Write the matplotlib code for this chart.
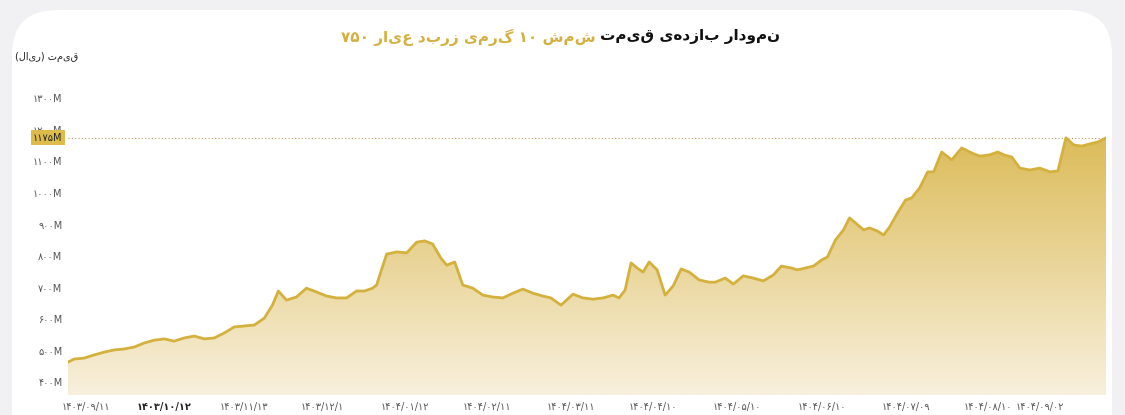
import re
import numpy as np
import matplotlib
matplotlib.use("Agg")
import matplotlib.pyplot as plt
from matplotlib.patches import FancyBboxPatch
from matplotlib.colors import LinearSegmentedColormap

plt.rcParams['font.family'] = ['DejaVu Sans']

def vis(s):
    # matplotlib has no bidi: give visual order, keeping digit runs LTR and mirroring brackets
    parts = re.findall(r'[0-9۰-۹]+|[^0-9۰-۹]', s)
    out = ''.join(parts[::-1])
    return out.translate(str.maketrans('()', ')('))

days = [0,3,8,13,18,23,28,33,38,43,48,53,58,63,68,73,78,83,88,93,98,102,105,109,114,119,124,129,134,139,144,148,152,154,159,164,169,174,178,182,186,189,193,197,202,207,212,217,222,227,232,237,241,246,252,257,262,267,272,275,278,281,284,287,290,294,298,302,306,310,315,320,323,328,332,337,342,347,352,356,361,364,368,372,376,379,383,387,390,393,397,400,404,407,410,414,418,421,425,429,432,436,441,446,451,455,460,464,467,471,475,480,485,490]
price = [463,473,476,486,495,502,505,511,524,533,537,530,540,546,537,540,556,575,578,581,603,644,689,660,670,698,686,673,667,667,689,689,698,708,806,813,810,844,848,838,794,771,781,708,698,676,670,667,682,695,682,673,667,644,679,667,663,667,676,667,692,778,762,749,781,756,676,705,759,749,724,717,717,730,711,737,730,721,740,768,762,756,762,768,787,797,851,883,921,905,883,889,879,867,892,937,978,984,1016,1067,1067,1130,1105,1143,1127,1117,1121,1130,1121,1114,1079,1073,1079,1067,1070,1175,1152,1149,1156,1162,1175]
days = days[:len(price)]
while len(days) < len(price):
    days.append(days[-1] + 4)

yticks = [400,500,600,700,800,900,1000,1100,1200,1300]
ylabels = ["۴۰۰M","۵۰۰M","۶۰۰M","۷۰۰M","۸۰۰M","۹۰۰M","۱۰۰۰M","۱۱۰۰M","۱۲۰۰M","۱۳۰۰M"]
xlabels = ["۱۴۰۳/۰۹/۱۱","۱۴۰۳/۱۰/۱۲","۱۴۰۳/۱۱/۱۳","۱۴۰۳/۱۲/۱","۱۴۰۴/۰۱/۱۲","۱۴۰۴/۰۲/۱۱","۱۴۰۴/۰۳/۱۱","۱۴۰۴/۰۴/۱۰","۱۴۰۴/۰۵/۱۰","۱۴۰۴/۰۶/۱۰","۱۴۰۴/۰۷/۰۹","۱۴۰۴/۰۸/۱۰","۱۴۰۴/۰۹/۰۲"]
xlabel_days = [9,48,88,127,168,209,251,292,334,376,418,459,485]
last_label = "۱۱۷۵M"

W, H = 1125, 415
fig = plt.figure(figsize=(W/100, H/100), dpi=100)
fig.patch.set_facecolor('#f1f1f3')
card = FancyBboxPatch((12/W, -0.1), 1100/W, 1.1 - 10/H,
                      boxstyle="round,pad=0,rounding_size=0.04",
                      transform=fig.transFigure, facecolor='white', edgecolor='none',
                      mutation_aspect=W/H, zorder=-10)
fig.patches.append(card)

ax = fig.add_axes([68/W, 20/H, (1106-68)/W, 335/H])
ax.set_facecolor('none')
ax.set_zorder(5)
x = np.array(days, float); y = np.array(price, float)
ybot = 359
ax.set_xlim(x[0], x[-1]); ax.set_ylim(ybot, 1422)

grad = np.linspace(0, 1, 256).reshape(-1, 1)
cmap = LinearSegmentedColormap.from_list('g', ['#f8f0dd', '#dcbc5a'])
im = ax.imshow(grad, cmap=cmap, aspect='auto', origin='lower',
               extent=[x[0], x[-1], ybot, y.max()], zorder=1)
poly = ax.fill_between(x, y, ybot, color='none')
im.set_clip_path(poly.get_paths()[0], transform=ax.transData)
ax.plot(x, y, color='#d4b03c', lw=2, zorder=3)
ax.axhline(price[-1], color='#b8a35a', lw=0.8, ls=(0, (1, 2)), zorder=2)

for s in ax.spines.values():
    s.set_visible(False)
ax.set_yticks(yticks)
ax.set_yticklabels(ylabels, fontsize=7, color='#555555')
ax.set_xticks(xlabel_days)
ax.set_xticklabels(xlabels, fontsize=7, color='#555555')
ax.get_xticklabels()[1].set_fontweight('bold')
ax.get_xticklabels()[1].set_color('#222222')
ax.tick_params(axis='x', length=0, pad=5)
ax.tick_params(axis='y', length=0, pad=4)

ax.text(-35/(1106-68), price[-1], last_label, transform=ax.get_yaxis_transform(),
        fontsize=7, color='#222222', va='center', ha='left', zorder=6,
        bbox=dict(boxstyle='square,pad=0.25', fc='#dcbc4a', ec='none'))

fig.text(78/W, 1-57/H, vis("قیمت (ریال)"), fontsize=7, color='#222222', ha='right', va='center')
fig.text(596/W, 1-37/H, vis("شمش ۱۰ گرمی زربد عیار ۷۵۰"), fontsize=11, fontweight='bold',
         color='#d4b040', ha='right', va='center')
fig.text(600/W, 1-37/H, vis("نمودار بازدهی قیمت"), fontsize=11, fontweight='bold',
         color='#111111', ha='left', va='center')

fig.savefig('out.png', dpi=100, facecolor=fig.get_facecolor())
